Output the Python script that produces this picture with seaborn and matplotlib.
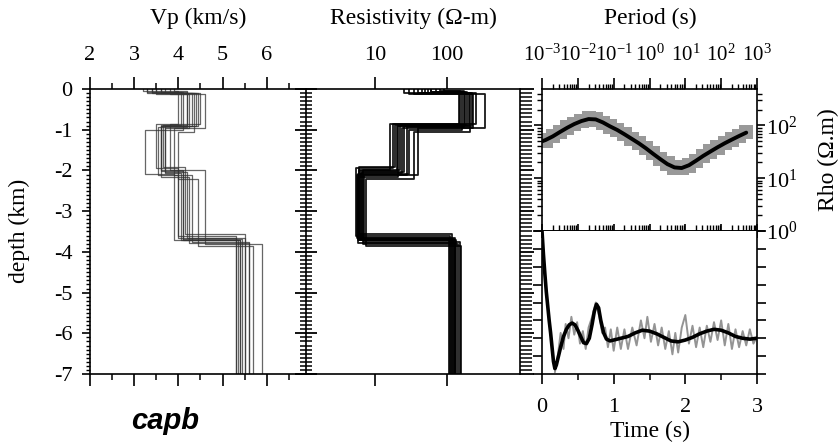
import numpy as np
import pandas as pd
import matplotlib
matplotlib.use("Agg")
import matplotlib.pyplot as plt
import seaborn as sns
from matplotlib.ticker import (MultipleLocator, FixedLocator, NullLocator, LogLocator,
                               NullFormatter, FormatStrFormatter)

sns.set_style("ticks")
plt.rcParams["font.family"] = ["Liberation Serif", "DejaVu Serif"]
plt.rcParams["mathtext.fontset"] = "stix"
plt.rcParams["axes.unicode_minus"] = False
plt.rcParams["axes.linewidth"] = 1.2
for key in ["text.color", "axes.labelcolor", "xtick.color", "ytick.color", "axes.edgecolor"]:
    plt.rcParams[key] = "black"

# --- layered models (depth of interfaces in km, one row per model) ---
iface_depth = [
    [0.08, 0.88, 2.00, 3.70], [0.10, 0.92, 2.05, 3.65], [0.06, 0.85, 1.95, 3.60],
    [0.12, 0.95, 2.10, 3.75], [0.09, 0.90, 2.02, 3.68], [0.07, 1.00, 2.08, 3.72],
    [0.11, 0.87, 1.98, 3.80], [0.05, 0.93, 2.12, 3.66], [0.10, 1.05, 2.20, 3.85],
    [0.08, 0.89, 1.92, 3.55], [0.13, 0.97, 2.06, 3.70], [0.09, 0.91, 2.15, 3.78],
]
vp_layers = [
    [3.4, 4.2, 3.6, 4.1, 5.4], [3.7, 4.4, 3.7, 4.2, 5.5], [3.2, 4.0, 3.5, 4.0, 5.3],
    [3.8, 4.6, 3.9, 4.3, 5.6], [3.5, 4.3, 3.6, 4.1, 5.45], [3.3, 4.1, 3.25, 3.9, 5.35],
    [3.6, 4.5, 3.8, 4.6, 5.9], [3.9, 4.2, 3.55, 4.0, 5.3], [3.4, 4.35, 4.0, 4.45, 5.7],
    [3.6, 4.05, 3.65, 4.15, 5.5], [3.5, 4.25, 3.7, 4.05, 5.4], [3.3, 4.45, 3.6, 4.25, 5.6],
]
rho_layers = [
    [60, 180, 22, 6.0, 120], [40, 220, 25, 6.5, 130], [80, 150, 18, 5.5, 110],
    [30, 340, 40, 7.0, 150], [50, 200, 20, 6.2, 125], [70, 160, 30, 5.8, 115],
    [25, 250, 16, 6.8, 140], [90, 170, 28, 5.6, 105], [45, 210, 35, 7.4, 155],
    [60, 190, 19, 6.0, 118], [35, 230, 24, 6.3, 135], [55, 145, 21, 5.9, 128],
]
max_depth = 7.0

# --- MT apparent resistivity ---
obs_period = [0.00126, 0.002, 0.00316, 0.005, 0.0079, 0.0126, 0.02, 0.0316, 0.05, 0.079,
              0.126, 0.2, 0.316, 0.5, 0.79, 1.26, 2, 3.16, 5, 7.9,
              12.6, 20, 31.6, 50, 79, 126, 200, 316, 500]
obs_rho = [52, 63, 76, 91, 107, 123, 135, 129, 112, 95,
           81, 68, 56, 46, 37, 30, 23, 19, 16, 15.5,
           17.4, 21, 26, 32, 38, 46, 54, 63, 74]
mod_period = [0.001] + obs_period
mod_rho = [50, 53, 62, 75, 90, 106, 121, 132, 130, 114,
           96, 82, 68, 56, 46, 37, 29, 23, 18.5, 16,
           15.6, 17.6, 21.5, 26.5, 32, 38.5, 46, 54, 63, 73]

# --- time series ---
ts_t = [0, 0.02, 0.04, 0.06, 0.08, 0.10, 0.12, 0.14, 0.16, 0.18,
        0.20, 0.23, 0.26, 0.30, 0.34, 0.38, 0.42, 0.46, 0.50, 0.54,
        0.58, 0.62, 0.66, 0.70, 0.73, 0.76, 0.79, 0.82, 0.86, 0.90,
        0.95, 1.0, 1.1, 1.2, 1.3, 1.4, 1.5, 1.6, 1.7, 1.8,
        1.9, 2.0, 2.1, 2.2, 2.3, 2.4, 2.5, 2.6, 2.7, 2.8, 2.9, 3.0]
ts_mod = [0.60, 0.47, 0.36, 0.26, 0.18, 0.10, 0.03, -0.05, -0.13, -0.17,
          -0.15, -0.10, -0.05, 0.01, 0.05, 0.075, 0.085, 0.075, 0.045, 0.01,
          -0.025, -0.03, 0.0, 0.08, 0.15, 0.19, 0.17, 0.10, 0.03, -0.005,
          -0.015, -0.01, 0.0, 0.01, 0.03, 0.045, 0.04, 0.025, 0.005, -0.015,
          -0.02, -0.01, 0.005, 0.025, 0.04, 0.05, 0.045, 0.03, 0.01, 0.0, -0.005, 0.0]
obs_t = [0.18, 0.22, 0.26, 0.30, 0.33, 0.37, 0.41, 0.45, 0.49, 0.53,
         0.57, 0.61, 0.65, 0.70, 0.75, 0.80, 0.84, 0.88, 0.92, 0.96,
         1.00, 1.05, 1.10, 1.15, 1.20, 1.26, 1.32, 1.38, 1.43, 1.47,
         1.52, 1.57, 1.62, 1.67, 1.72, 1.77, 1.82, 1.86, 1.90, 1.95,
         2.00, 2.05, 2.10, 2.15, 2.20, 2.25, 2.30, 2.35, 2.40, 2.45,
         2.50, 2.55, 2.60, 2.65, 2.70, 2.75, 2.80, 2.85, 2.90, 2.95, 3.00]
obs_ts = [-0.19, -0.10, 0.03, -0.06, 0.08, 0.00, 0.12, 0.02, 0.09, -0.03,
          0.04, -0.06, 0.06, 0.12, 0.20, 0.12, 0.03, 0.06, -0.05, 0.05,
          -0.07, 0.06, -0.06, 0.05, -0.06, 0.06, -0.04, 0.10, 0.00, 0.12,
          -0.02, 0.08, -0.04, 0.06, -0.06, 0.04, -0.09, 0.03, -0.08, 0.06,
          0.13, -0.03, 0.07, -0.05, 0.06, -0.05, 0.07, -0.02, 0.09, -0.01,
          0.10, -0.04, 0.08, -0.06, 0.05, -0.05, 0.04, -0.04, 0.05, -0.03, 0.01]


def staircase(depths, values):
    z = [0.0]
    v = [values[0]]
    for d, a, b in zip(depths, values[:-1], values[1:]):
        z += [d, d]
        v += [a, b]
    z.append(max_depth)
    v.append(values[-1])
    return z, v


rows = []
for m, (dd, vv, rr) in enumerate(zip(iface_depth, vp_layers, rho_layers)):
    z, v = staircase(dd, vv)
    _, r = staircase(dd, rr)
    for zi, vi, ri in zip(z, v, r):
        rows.append({"model": m, "depth": -zi, "vp": vi, "rho": ri})
models = pd.DataFrame(rows)

W, H = 839, 447
fig = plt.figure(figsize=(W / 100, H / 100), dpi=100)


def box(x0, y0, x1, y1):
    return [x0 / W, 1 - y1 / H, (x1 - x0) / W, (y1 - y0) / H]


ax_vp = fig.add_axes(box(90, 89, 306, 374))
ax_rho = fig.add_axes(box(306, 89, 520, 374))
ax_mt = fig.add_axes(box(542, 89, 757, 231))
ax_ts = fig.add_axes(box(542, 231, 757, 374))

FS = 16
px = 1 / 1.389  # pixel -> points

# Vp panel
sns.lineplot(data=models, x="vp", y="depth", units="model", estimator=None, sort=False,
             color="0.2", lw=0.9, alpha=0.75, ax=ax_vp, legend=False)
ax_vp.set_xlim(2, 6.89)
ax_vp.set_ylim(-7, 0)
ax_vp.xaxis.set_major_locator(FixedLocator([2, 3, 4, 5, 6]))
ax_vp.xaxis.set_minor_locator(MultipleLocator(0.5))
ax_vp.yaxis.set_major_locator(MultipleLocator(1))
ax_vp.yaxis.set_minor_locator(MultipleLocator(0.1))
ax_vp.yaxis.set_major_formatter(FormatStrFormatter("%d"))
ax_vp.tick_params(axis="x", which="both", top=True, bottom=True, labeltop=True,
                  labelbottom=False, direction="out", labelsize=FS, pad=9)
ax_vp.tick_params(axis="x", which="major", length=12 * px, width=1.2)
ax_vp.tick_params(axis="x", which="minor", length=6 * px, width=1.1)
ax_vp.tick_params(axis="y", which="major", length=8 * px, width=1.2, labelsize=FS, pad=7)
ax_vp.tick_params(axis="y", which="minor", length=4 * px, width=1.0)
ax_vp.spines["right"].set_visible(False)
ax_vp.set_xlabel("")
ax_vp.set_ylabel("")

# Resistivity panel
ax_rho.set_xscale("log")
sns.lineplot(data=models, x="rho", y="depth", units="model", estimator=None, sort=False,
             color="black", lw=1.3, alpha=0.9, ax=ax_rho, legend=False)
ax_rho.set_xlim(10 ** 0.042, 10 ** 3.014)
ax_rho.set_ylim(-7, 0)
ax_rho.xaxis.set_major_locator(FixedLocator([10, 100]))
ax_rho.xaxis.set_minor_locator(NullLocator())
ax_rho.xaxis.set_major_formatter(FormatStrFormatter("%d"))
ax_rho.tick_params(axis="x", which="major", top=True, bottom=True, labeltop=True,
                   labelbottom=False, direction="out", length=12 * px, width=1.2,
                   labelsize=FS, pad=9)
ax_rho.yaxis.set_major_locator(MultipleLocator(1))
ax_rho.yaxis.set_minor_locator(MultipleLocator(0.1))
ax_rho.tick_params(axis="y", which="major", direction="inout", length=22 * px, width=1.3,
                   labelleft=False)
ax_rho.tick_params(axis="y", which="minor", direction="inout", length=12 * px, width=1.1)
ax_rho.spines["right"].set_visible(False)
sec_r = ax_rho.secondary_yaxis("right")
sec_r.yaxis.set_major_locator(MultipleLocator(1))
sec_r.yaxis.set_minor_locator(MultipleLocator(0.1))
sec_r.tick_params(axis="y", which="major", direction="out", length=14 * px, width=1.3,
                  labelright=False)
sec_r.tick_params(axis="y", which="minor", direction="out", length=12 * px, width=1.1)
ax_rho.set_xlabel("")
ax_rho.set_ylabel("")

# MT apparent resistivity panel
ax_mt.set_xscale("log")
ax_mt.set_yscale("log")
sns.scatterplot(x=obs_period, y=obs_rho, marker="s", s=105, color="0.6",
                edgecolor="none", ax=ax_mt, legend=False, zorder=2)
sns.lineplot(x=mod_period, y=mod_rho, color="black", lw=2.8, sort=False,
             estimator=None, ax=ax_mt, zorder=3)
ax_mt.set_xlim(1e-3, 1e3)
ax_mt.set_ylim(1, 10 ** 2.69)
ax_mt.xaxis.set_major_locator(FixedLocator(10.0 ** np.arange(-3, 4)))
ax_mt.xaxis.set_minor_locator(LogLocator(base=10, subs=np.arange(2, 10), numticks=20))
ax_mt.xaxis.set_minor_formatter(NullFormatter())
ax_mt.tick_params(axis="x", which="both", top=True, bottom=False, labeltop=True,
                  labelbottom=False, direction="out", labelsize=15, pad=9)
ax_mt.tick_params(axis="x", which="major", length=11 * px, width=1.2)
ax_mt.tick_params(axis="x", which="minor", length=5 * px, width=1.0)
sec_b = ax_mt.secondary_xaxis("bottom")
sec_b.xaxis.set_major_locator(FixedLocator(10.0 ** np.arange(-3, 4)))
sec_b.xaxis.set_minor_locator(LogLocator(base=10, subs=np.arange(2, 10), numticks=20))
sec_b.xaxis.set_minor_formatter(NullFormatter())
sec_b.tick_params(axis="x", which="major", direction="inout", length=14 * px, width=1.2,
                  labelbottom=False)
sec_b.tick_params(axis="x", which="minor", direction="in", length=6 * px, width=1.0)
ax_mt.yaxis.set_major_locator(FixedLocator([1, 10, 100]))
ax_mt.yaxis.set_minor_locator(LogLocator(base=10, subs=np.arange(2, 10), numticks=20))
ax_mt.yaxis.set_minor_formatter(NullFormatter())
ax_mt.tick_params(axis="y", which="both", left=True, right=True, labelleft=False,
                  labelright=True, direction="out", labelsize=FS, pad=1)
ax_mt.tick_params(axis="y", which="major", length=8 * px, width=1.2)
ax_mt.tick_params(axis="y", which="minor", length=5 * px, width=1.0)

# time series panel
sns.lineplot(x=obs_t, y=obs_ts, color="0.58", lw=1.4, sort=False, estimator=None,
             ax=ax_ts, zorder=2)
sns.lineplot(x=ts_t, y=ts_mod, color="black", lw=2.6, sort=False, estimator=None,
             ax=ax_ts, zorder=3)
ax_ts.set_xlim(0, 3)
ax_ts.set_ylim(-0.2, 0.6)
ax_ts.xaxis.set_major_locator(MultipleLocator(1))
ax_ts.xaxis.set_minor_locator(MultipleLocator(0.5))
ax_ts.xaxis.set_major_formatter(FormatStrFormatter("%d"))
ax_ts.tick_params(axis="x", which="both", direction="out", labelsize=FS, pad=10)
ax_ts.tick_params(axis="x", which="major", length=10 * px, width=1.2)
ax_ts.tick_params(axis="x", which="minor", length=6 * px, width=1.1)
ax_ts.yaxis.set_major_locator(MultipleLocator(0.1))
ax_ts.tick_params(axis="y", which="major", left=True, right=True, labelleft=False,
                  direction="out", length=9 * px, width=1.2)
ax_ts.spines["top"].set_visible(False)
ax_ts.set_xlabel("")
ax_ts.set_ylabel("")

# text
TS = 17
fig.text(198 / W, 1 - 18 / H, "Vp (km/s)", ha="center", va="center", fontsize=TS)
fig.text(413 / W, 1 - 18 / H, "Resistivity (\u03a9-m)", ha="center", va="center", fontsize=TS)
fig.text(650 / W, 1 - 18 / H, "Period (s)", ha="center", va="center", fontsize=TS)
fig.text(650 / W, 1 - 431 / H, "Time (s)", ha="center", va="center", fontsize=TS)
fig.text(19 / W, 1 - 231 / H, "depth (km)", ha="center", va="center", rotation=90, fontsize=TS)
fig.text(828 / W, 1 - 160 / H, "Rho (\u03a9.m)", ha="center", va="center", rotation=90, fontsize=TS)
fig.text(165 / W, 1 - 421 / H, "capb", ha="center", va="center", fontsize=21,
         family="Liberation Sans", weight="bold", style="italic", color="black")

fig.savefig("out.png", dpi=100)
